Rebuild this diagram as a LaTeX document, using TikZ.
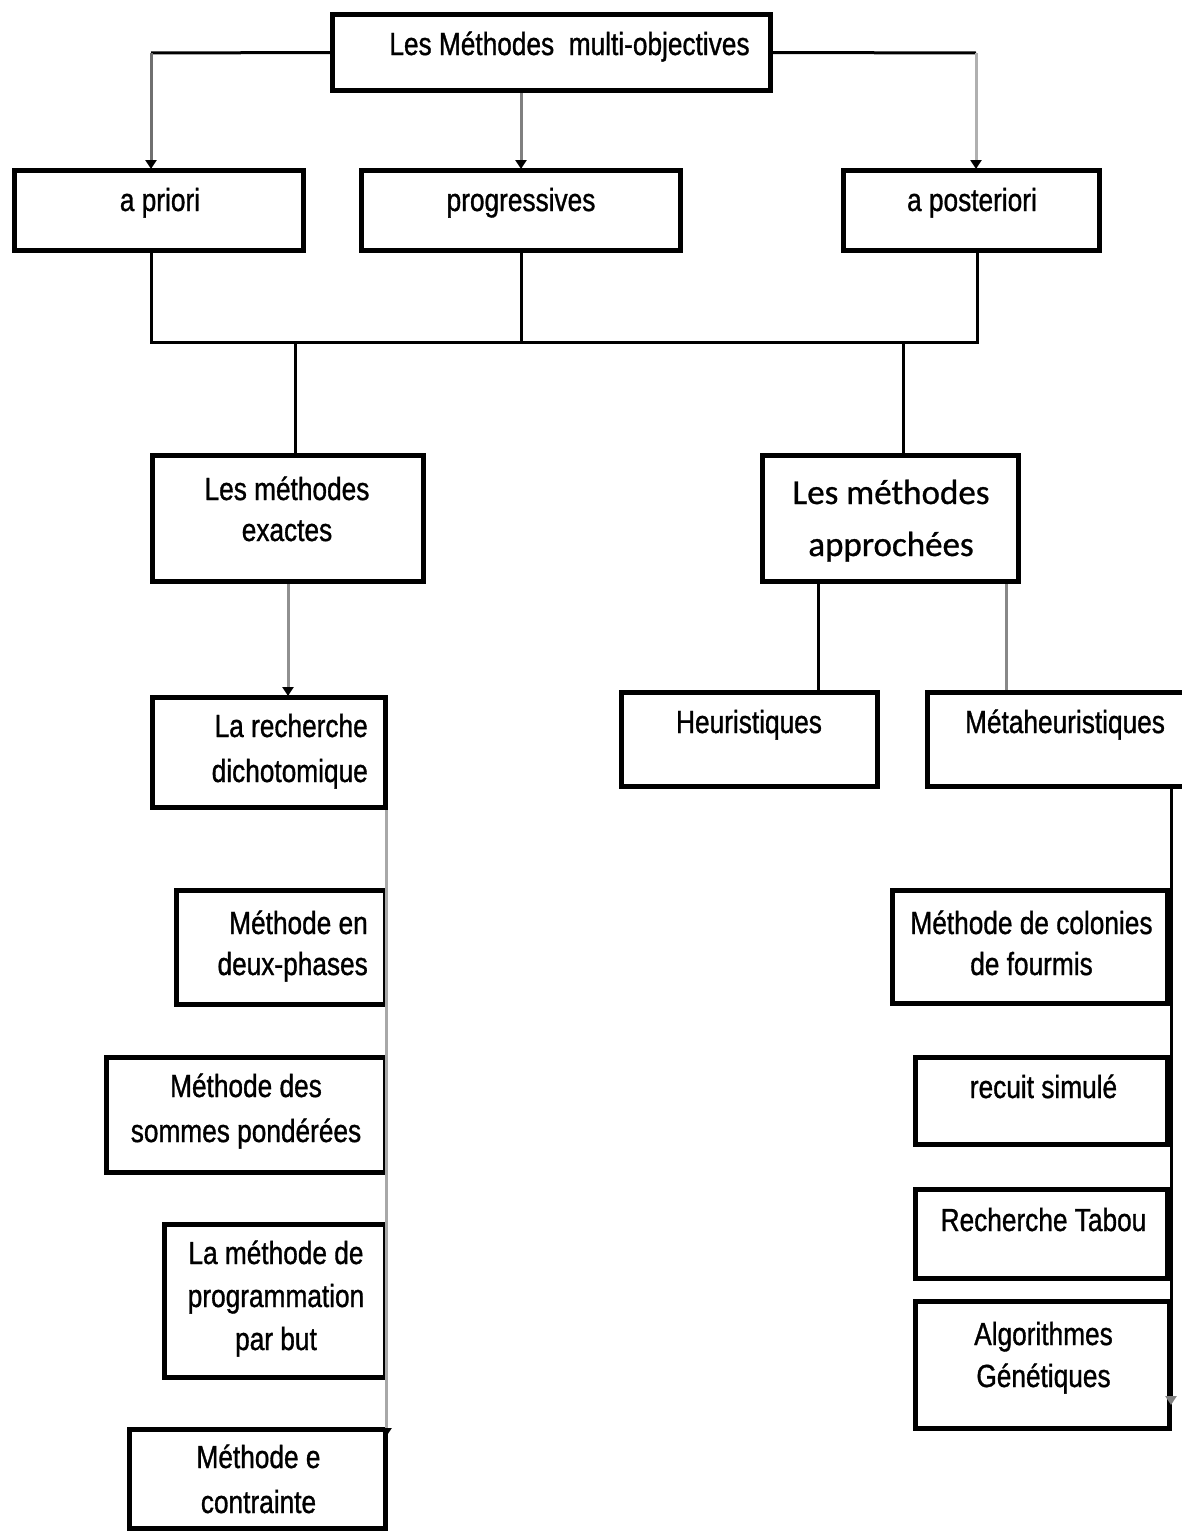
\documentclass[tikz,border=0pt]{standalone}
\usepackage{fontspec}
\setmainfont{Liberation Sans}[FakeStretch=0.82,FakeBold=1]
\newfontfamily\calib{Carlito}[FakeBold=0.8]
\usetikzlibrary{arrows.meta}
\definecolor{gA}{HTML}{707070}
\definecolor{gB}{HTML}{808080}
\definecolor{gC}{HTML}{B0B0B0}
\definecolor{gD}{HTML}{909090}
\definecolor{gE}{HTML}{888888}
\definecolor{gF}{HTML}{A8A8A8}
\begin{document}
\begin{tikzpicture}[x=1pt,y=-1pt,
  box/.style={draw,line width=5pt,rectangle,inner sep=0pt},
  txt/.style={inner sep=0pt,align=center,font=\fontsize{32}{43}\selectfont},
  txtr/.style={inner sep=0pt,align=right,font=\fontsize{32}{45}\selectfont},
  lk/.style={line width=3pt,draw=black},
  ar/.style={line width=3pt,-{Triangle[width=11pt,length=9pt,color=black]}}]
\useasboundingbox (0,0) rectangle (1182,1531);
\fill[white] (0,0) rectangle (1182,1531);

% boxes
\node[box,minimum width=438pt,minimum height=76pt] (top) at (551.5,52.5) {};
\node[box,minimum width=289pt,minimum height=80pt] (apriori) at (159,210.5) {};
\node[box,minimum width=319pt,minimum height=80pt] (prog) at (521,210.5) {};
\node[box,minimum width=256pt,minimum height=80pt] (apost) at (971.5,210.5) {};
\node[box,minimum width=271pt,minimum height=126pt] (exactes) at (288,518.5) {};
\node[box,minimum width=256pt,minimum height=126pt] (approchees) at (890.5,518.5) {};
\node[box,minimum width=233pt,minimum height=110pt] (dicho) at (269,752.5) {};
\node[box,minimum width=256pt,minimum height=94pt] (heur) at (749.5,739.5) {};
\node[box,minimum width=260pt,minimum height=94pt] (meta) at (1057.5,739.5) {};
\node[box,minimum width=209pt,minimum height=114pt] (deux) at (281,947.5) {};
\node[box,minimum width=279pt,minimum height=115pt] (sommes) at (246,1115) {};
\node[box,minimum width=221pt,minimum height=153pt] (progbut) at (275,1301) {};
\node[box,minimum width=256pt,minimum height=99pt] (contr) at (257.5,1479) {};
\node[box,minimum width=275pt,minimum height=113pt] (fourmis) at (1030,947) {};
\node[box,minimum width=252pt,minimum height=87pt] (recuit) at (1041.5,1101) {};
\node[box,minimum width=252pt,minimum height=89pt] (tabou) at (1041.5,1234) {};
\node[box,minimum width=254pt,minimum height=127pt] (genet) at (1042.5,1365) {};

% texts (base anchor = baseline of last line)
\node[txt,anchor=base] at (569.5,55) {Les Méthodes~ multi-objectives};
\node[txt,anchor=base] at (160,211) {a priori};
\node[txt,anchor=base] at (521,211) {progressives};
\node[txt,anchor=base] at (972,211) {a posteriori};
\node[txt,anchor=base,font=\fontsize{32}{41}\selectfont] at (287,541) {Les méthodes\\exactes};
\node[inner sep=0pt,align=center,font=\calib\fontsize{35}{52}\selectfont,anchor=base] at (891,556) {Les méthodes\\approchées};
\node[txtr,anchor=base east] at (368,782) {La recherche\\dichotomique};
\node[txt,anchor=base] at (749,733) {Heuristiques};
\node[txt,anchor=base] at (1065,733) {Métaheuristiques};
\node[txtr,anchor=base east,font=\fontsize{32}{41}\selectfont] at (368,975) {Méthode en\\deux-phases};
\node[txt,anchor=base,font=\fontsize{32}{45}\selectfont] at (246,1142) {Méthode des\\sommes pondérées};
\node[txt,anchor=base,font=\fontsize{32}{43}\selectfont] at (276,1350) {La méthode de\\programmation\\par but};
\node[txt,anchor=base,font=\fontsize{32}{45}\selectfont] at (258.5,1513) {Méthode e\\contrainte};
\node[txt,anchor=base,font=\fontsize{32}{41}\selectfont] at (1031.5,975) {Méthode de colonies\\de fourmis};
\node[txt,anchor=base] at (1043.5,1098) {recuit simulé};
\node[txt,anchor=base] at (1043.5,1231) {Recherche Tabou};
\node[txt,anchor=base,font=\fontsize{32}{42}\selectfont] at (1043.5,1387) {Algorithmes\\Génétiques};

% top-level connectors
\coordinate (kL) at (151,53);
\coordinate (kR) at (976,53);
\draw[lk] (top.west) -- (kL);
\draw[ar,draw=gA] (kL) -- ([yshift=-1pt]kL |- apriori.north);
\draw[ar,draw=gB] (top.south -| prog.north) -- ([yshift=-1pt]prog.north);
\draw[lk] (top.east) -- (kR);
\draw[ar,draw=gC] (kR) -- ([yshift=-1pt]kR |- apriori.north);

% bus
\coordinate (bL) at (151,342);
\coordinate (bR) at (977,342);
\coordinate (bE) at (295,342);
\coordinate (bA) at (903,342);
\draw[lk] (apriori.south -| bL) -- (bL) -- (bR) -- (apost.south -| bR);
\draw[lk] (prog.south) -- (prog.south |- bL);
\draw[lk] (bE) -- (bE |- exactes.north);
\draw[lk] (bA) -- (bA |- approchees.north);

% lower connectors
\coordinate (xH) at (818,0);
\coordinate (xM) at (1006,0);
\coordinate (xR) at (1171,0);
\coordinate (xC) at (386,0);
\coordinate (endR) at (1171,1405);
\coordinate (endL) at (386,1437);
\draw[ar,draw=gD] (exactes.south) -- ([yshift=-1pt]exactes.south |- dicho.north);
\draw[lk] (approchees.south -| xH) -- (xH |- heur.north);
\draw[line width=3pt,draw=gE] (approchees.south -| xM) -- (xM |- meta.north);
\draw[lk,-{Triangle[width=11pt,length=9pt,color=gB]}] (meta.south -| xR) -- (endR);
\draw[ar,draw=gF] (dicho.south -| xC) -- (endL);
\end{tikzpicture}
\end{document}
